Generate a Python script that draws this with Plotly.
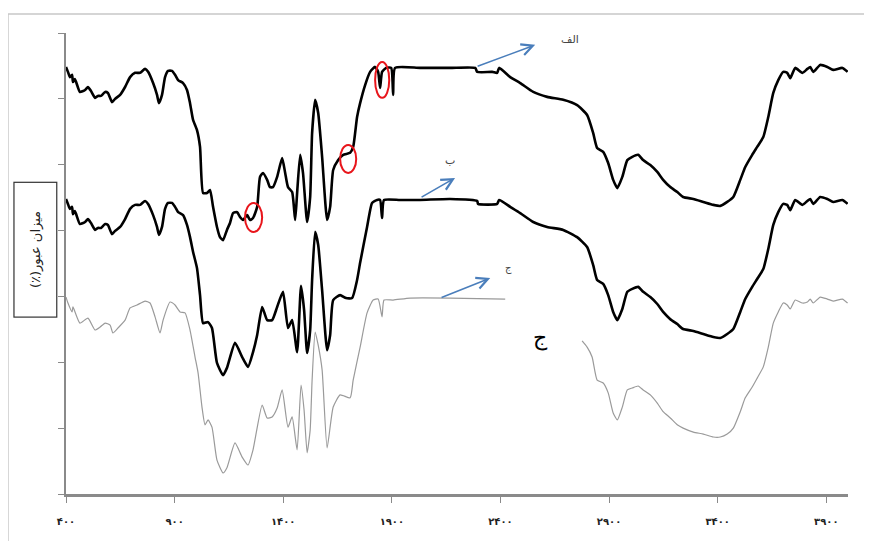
import plotly.graph_objects as go

# ---------------- data ----------------
wavenumber_a = [400, 409, 418, 428, 432, 441, 464, 488, 501, 515,
                534, 547, 561, 580, 593, 612, 626, 649, 672, 695,
                718, 741, 764, 778, 801, 819, 828, 842, 856, 870,
                888, 902, 916, 939, 957, 971, 985, 1003, 1017, 1031,
                1049, 1063, 1077, 1095, 1109, 1123, 1141, 1155, 1169, 1188,
                1201, 1215, 1234, 1247, 1261, 1280, 1293, 1307, 1326, 1339,
                1353, 1372, 1395, 1409, 1422, 1441, 1455, 1464, 1478, 1491,
                1510, 1524, 1533, 1547, 1561, 1579, 1602, 1616, 1630, 1653,
                1676, 1708, 1722, 1740, 1754, 1777, 1800, 1823, 1837, 1846,
                1855, 1874, 1897, 1906, 1915, 2030, 2168, 2284, 2293, 2362,
                2385, 2394, 2445, 2491, 2551, 2615, 2689, 2753, 2799, 2827,
                2845, 2873, 2896, 2919, 2938, 2961, 2984, 3007, 3034, 3057,
                3090, 3122, 3149, 3182, 3214, 3241, 3288, 3334, 3380, 3412,
                3444, 3472, 3504, 3527, 3559, 3582, 3610, 3633, 3656, 3679,
                3702, 3720, 3734, 3757, 3790, 3813, 3826, 3840, 3872, 3905,
                3932, 3974, 3998]
transmittance_a = [129.7, 128.2, 126.6, 127.3, 125.1, 126.0, 122.1, 122.7, 123.6, 122.4,
                   120.3, 120.9, 120.9, 122.1, 121.8, 119.0, 120.0, 121.2, 123.6, 126.6,
                   127.9, 127.9, 129.1, 128.2, 124.8, 121.2, 118.7, 121.2, 126.6, 128.5,
                   128.5, 127.3, 125.7, 124.8, 122.7, 118.7, 113.6, 110.5, 105.4, 91.4,
                   91.4, 92.3, 87.2, 81.1, 78.0, 77.1, 80.2, 82.3, 85.3, 85.6,
                   84.1, 83.2, 84.7, 83.2, 83.8, 87.2, 96.3, 97.5, 95.4, 93.2,
                   93.2, 96.3, 102.0, 97.5, 93.2, 91.7, 83.2, 91.4, 103.0, 97.5,
                   82.6, 90.2, 109.6, 119.7, 115.7, 102.4, 83.2, 87.2, 98.4, 101.4,
                   103.0, 103.6, 105.4, 114.5, 118.7, 124.2, 128.2, 129.7, 128.2, 123.3,
                   128.2, 129.4, 129.4, 121.2, 129.4, 129.4, 129.4, 129.4, 128.2, 128.2,
                   127.9, 129.4, 126.6, 124.8, 122.1, 120.6, 119.7, 118.1, 115.1, 109.6,
                   105.1, 103.9, 100.5, 95.4, 92.9, 96.3, 101.4, 102.4, 103.0, 101.4,
                   99.9, 97.8, 95.4, 93.2, 91.7, 90.2, 89.6, 88.7, 87.8, 87.5,
                   88.7, 90.2, 95.4, 99.3, 103.0, 105.4, 108.4, 114.5, 121.8, 125.7,
                   128.2, 127.9, 126.3, 129.4, 127.9, 129.1, 129.7, 128.2, 130.3, 129.7,
                   128.8, 129.4, 128.2]

wavenumber_b = [400, 409, 418, 428, 432, 441, 464, 488, 501, 515,
                534, 547, 561, 580, 593, 612, 626, 649, 672, 695,
                718, 741, 764, 778, 801, 819, 828, 842, 856, 870,
                888, 902, 916, 939, 957, 971, 985, 1003, 1017, 1031,
                1054, 1072, 1095, 1123, 1141, 1178, 1211, 1238, 1261, 1280,
                1303, 1326, 1349, 1372, 1399, 1422, 1441, 1464, 1482, 1496,
                1510, 1524, 1533, 1547, 1561, 1579, 1602, 1616, 1630, 1662,
                1689, 1717, 1740, 1754, 1786, 1809, 1832, 1846, 1855, 1864,
                1938, 2030, 2168, 2293, 2297, 2385, 2394, 2445, 2491, 2551,
                2615, 2689, 2753, 2799, 2827, 2845, 2873, 2896, 2919, 2938,
                2961, 2984, 3007, 3034, 3057, 3090, 3122, 3149, 3182, 3214,
                3241, 3288, 3334, 3380, 3412, 3444, 3472, 3504, 3527, 3559,
                3582, 3610, 3633, 3656, 3679, 3702, 3720, 3734, 3757, 3790,
                3813, 3826, 3840, 3872, 3905, 3932, 3974, 3998]
transmittance_b = [89.6, 88.1, 86.6, 87.2, 85.0, 85.9, 82.0, 82.6, 83.5, 82.3,
                   80.2, 80.8, 80.8, 82.0, 81.7, 78.9, 79.9, 81.1, 83.5, 86.6,
                   87.8, 87.8, 89.0, 88.1, 84.7, 81.1, 78.7, 81.1, 86.6, 88.4,
                   88.4, 87.2, 85.6, 84.7, 81.7, 78.0, 73.5, 68.6, 60.4, 51.9,
                   52.2, 50.4, 39.8, 36.1, 38.3, 45.9, 41.6, 38.6, 43.1, 48.3,
                   56.8, 52.8, 52.8, 56.8, 61.4, 50.4, 52.8, 43.1, 63.2, 55.9,
                   42.8, 49.8, 65.0, 79.6, 75.6, 61.9, 43.7, 48.3, 58.9, 60.4,
                   59.5, 59.5, 65.0, 70.2, 81.1, 88.4, 89.3, 89.3, 83.8, 89.3,
                   89.3, 89.3, 89.6, 89.0, 88.1, 88.1, 89.3, 87.2, 85.3, 82.6,
                   81.1, 80.2, 78.0, 75.0, 69.5, 65.0, 63.8, 60.4, 55.3, 52.8,
                   56.2, 61.4, 62.3, 62.9, 61.4, 59.8, 57.7, 55.3, 53.1, 51.6,
                   50.1, 49.5, 48.6, 47.7, 47.4, 48.6, 50.1, 55.3, 59.2, 62.9,
                   65.3, 68.3, 74.4, 81.7, 85.6, 88.1, 87.8, 86.2, 89.3, 87.8,
                   89.0, 89.6, 88.1, 90.2, 89.6, 88.7, 89.3, 88.1]

wavenumber_c = [400, 409, 428, 432, 464, 501, 534, 557, 580, 603,
                616, 639, 672, 695, 727, 764, 787, 810, 833, 847,
                879, 902, 925, 948, 971, 994, 1008, 1026, 1040, 1054,
                1072, 1095, 1123, 1141, 1178, 1211, 1238, 1261, 1303, 1326,
                1349, 1372, 1395, 1422, 1441, 1464, 1482, 1496, 1510, 1524,
                1533, 1547, 1561, 1579, 1602, 1630, 1662, 1708, 1722, 1754,
                1786, 1814, 1837, 1855, 1864, 1906, 1984, 2168, 2422,
                2600,
                2776, 2799, 2822, 2845, 2873, 2896, 2919, 2938, 2961, 2984,
                3007, 3034, 3057, 3090, 3122, 3149, 3182, 3214, 3241, 3288,
                3334, 3380, 3412, 3444, 3472, 3504, 3527, 3559, 3582, 3610,
                3633, 3656, 3679, 3702, 3720, 3734, 3757, 3790, 3813, 3826,
                3840, 3872, 3905, 3932, 3974, 3998]
transmittance_c = [59.8, 58.0, 55.3, 56.8, 51.9, 53.4, 49.8, 50.7, 51.9, 51.3,
                   48.9, 50.4, 52.8, 56.5, 57.4, 58.6, 58.0, 53.8, 48.9, 52.8,
                   58.3, 57.4, 55.3, 55.0, 49.8, 41.6, 36.8, 26.4, 21.0, 22.5,
                   20.3, 10.3, 6.4, 8.0, 15.5, 11.2, 8.8, 13.4, 27.0, 23.1,
                   23.4, 26.1, 31.6, 20.3, 23.4, 13.4, 33.1, 25.5, 12.5, 19.4,
                   34.6, 49.2, 45.2, 37.7, 14.0, 26.4, 30.1, 29.2, 34.6, 44.6,
                   55.0, 58.9, 59.2, 53.8, 58.9, 58.9, 59.5, 59.5, 59.2,
                   None,
                   46.5, 44.6, 41.6, 34.6, 33.7, 30.7, 24.6, 22.5, 26.4, 31.6,
                   32.2, 32.8, 31.6, 30.1, 27.6, 25.0, 23.1, 21.0, 20.0, 18.8,
                   18.2, 17.3, 17.3, 18.2, 20.0, 25.0, 29.2, 32.5, 35.2, 38.6,
                   44.6, 51.9, 55.3, 58.0, 57.4, 56.2, 58.9, 58.0, 58.3, 59.2,
                   58.0, 59.8, 59.2, 58.6, 59.2, 58.0]

tick_values = [400, 900, 1400, 1900, 2400, 2900, 3400, 3900]
tick_labels = ["۴۰۰", "۹۰۰", "۱۴۰۰", "۱۹۰۰", "۲۴۰۰", "۲۹۰۰", "۳۴۰۰", "۳۹۰۰"]
series_labels = ["الف", "ب", "ج"]
y_title = "میزان عبور(٪)"

# ---------------- figure ----------------
AXIS_COLOR = "#8a8a8a"
ARROW_COLOR = "#4a7ebb"
FONT = "DejaVu Sans"
LINE_SHAPE = dict(shape="spline", smoothing=0.5)

fig = go.Figure()
fig.add_trace(go.Scatter(x=wavenumber_a, y=transmittance_a, mode="lines",
                         line=dict(color="black", width=2.6, **LINE_SHAPE),
                         name=series_labels[0]))
fig.add_trace(go.Scatter(x=wavenumber_b, y=transmittance_b, mode="lines",
                         line=dict(color="black", width=2.6, **LINE_SHAPE),
                         name=series_labels[1]))
fig.add_trace(go.Scatter(x=wavenumber_c, y=transmittance_c, mode="lines",
                         line=dict(color="#9a9a9a", width=1.2, **LINE_SHAPE),
                         name=series_labels[2], connectgaps=False))

# the page body has an 8px default margin; margins are shifted to compensate
fig.update_layout(
    width=872, height=541,
    margin=dict(l=58, r=32, t=25, b=55),
    paper_bgcolor="white", plot_bgcolor="white",
    showlegend=False,
    font=dict(family=FONT, color="#333333"),
)
fig.update_xaxes(
    range=[400, 4000], showgrid=False, zeroline=False,
    showline=True, linecolor=AXIS_COLOR, linewidth=2.5,
    ticks="outside", ticklen=6, tickwidth=1, tickcolor=AXIS_COLOR,
    tickvals=tick_values, ticktext=["<b>" + t + "</b>" for t in tick_labels],
    tickfont=dict(family=FONT, size=10, color="#222222"),
    ticklabelstandoff=10,
)
fig.update_yaxes(
    range=[0, 140], dtick=20, showgrid=False, zeroline=False,
    showline=True, linecolor=AXIS_COLOR, linewidth=2,
    ticks="outside", ticklen=6, tickwidth=1, tickcolor=AXIS_COLOR,
    showticklabels=False,
)

# outer frame
fig.add_shape(type="rect", xref="paper", yref="paper",
              x0=-0.0742, x1=1.06, y0=-0.15, y1=1.0412,
              line=dict(color="#c8c8c8", width=1.5), layer="below")

# y-axis title in a box (RLM keeps the parenthesis on the RTL side)
fig.add_annotation(xref="paper", yref="paper", x=-0.0396, y=0.530,
                   xanchor="center", yanchor="middle",
                   text=y_title + "\u200f", textangle=-90, showarrow=False,
                   font=dict(family=FONT, size=13, color="#222222"),
                   bordercolor="#333333", borderwidth=1.2, borderpad=4,
                   bgcolor="white", width=126, height=34)

# series labels
fig.add_annotation(x=2721, y=137.9, text=series_labels[0], showarrow=False,
                   font=dict(family=FONT, size=11, color="#444444"))
fig.add_annotation(x=2168, y=101.4, text=series_labels[1], showarrow=False,
                   font=dict(family=FONT, size=11, color="#444444"))
fig.add_annotation(x=2436, y=68.6, text=series_labels[2], showarrow=False,
                   font=dict(family=FONT, size=10, color="#444444"))
fig.add_annotation(x=2583, y=47.4, text=series_labels[2], showarrow=False,
                   font=dict(family="DejaVu Serif", size=22, color="black"))

# blue arrows
for (x0, y0, x1, y1) in [(2288, 129.7, 2560, 136.4),
                         (2030, 89.9, 2191, 96.0),
                         (2122, 59.5, 2353, 65.6)]:
    fig.add_annotation(x=x1, y=y1, ax=x0, ay=y0, xref="x", yref="y",
                       axref="x", ayref="y", text="", showarrow=True,
                       arrowhead=5, arrowsize=1.4, arrowwidth=1.6,
                       arrowcolor=ARROW_COLOR)

# red circles
for (x0, x1, y0, y1) in [(1224, 1303, 79.6, 88.4),
                         (1662, 1736, 97.5, 106.0),
                         (1823, 1888, 120.3, 131.2)]:
    fig.add_shape(type="circle", xref="x", yref="y", x0=x0, x1=x1, y0=y0, y1=y1,
                  line=dict(color="#e8151b", width=2))

fig.write_html("out.html")
